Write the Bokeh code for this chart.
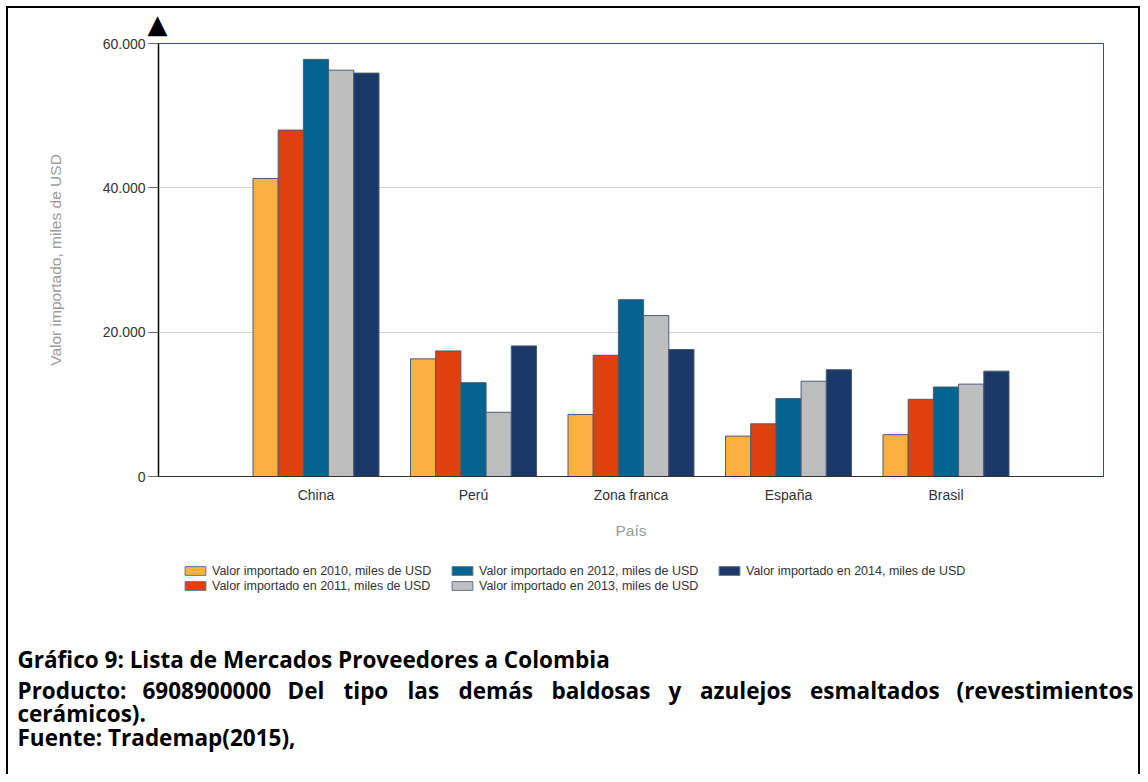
from bokeh.plotting import figure
from bokeh.models import Range1d, FixedTicker, Legend, LegendItem, Title
from bokeh.layouts import column
from bokeh.embed import file_html
from bokeh.resources import INLINE
from bokeh.core.properties import value

# ---- data ----
countries = ["China", "Perú", "Zona franca", "España", "Brasil"]
years = ["2010", "2011", "2012", "2013", "2014"]
v2010 = [41300, 16300, 8600, 5600, 5800]
v2011 = [48000, 17400, 16800, 7300, 10700]
v2012 = [57800, 13000, 24500, 10800, 12400]
v2013 = [56300, 8900, 22300, 13200, 12800]
v2014 = [55900, 18100, 17600, 14800, 14600]
series = [v2010, v2011, v2012, v2013, v2014]
series_labels = ["Valor importado en %s, miles de USD" % y for y in years]
colors = ["#FBB040", "#E0400B", "#05638F", "#BEBEBE", "#1B3968"]
y_ticks = [0, 20000, 40000, 60000]
y_tick_labels = ["0", "20.000", "40.000", "60.000"]

caption_1 = "Gráfico 9: Lista de Mercados Proveedores a Colombia"
caption_2_words = ["Producto:", "6908900000", "Del", "tipo", "las", "demás", "baldosas",
                   "y", "azulejos", "esmaltados", "(revestimientos"]
caption_3 = "cerámicos)."
caption_4 = "Fuente: Trademap(2015),"

W = 1140
H_TOP = 545
H_BOT = 774 - H_TOP

# ---- chart figure ----
p = figure(width=W, height=H_TOP, x_range=Range1d(0, 6), y_range=Range1d(0, 60000),
           output_backend="svg", toolbar_location=None,
           min_border_left=158, min_border_right=W - 1103, min_border_top=43,
           min_border_bottom=H_TOP - 476)
p.frame_align = False
p.background_fill_color = "white"
p.border_fill_alpha = 0
p.outline_line_color = "#34507A"
p.outline_line_width = 1

bar_w = 0.16
bar_x = []
for i, (vals, col) in enumerate(zip(series, colors)):
    xs = [k + 1 + (i - 2) * bar_w for k in range(len(countries))]
    bar_x.append(xs)
    p.vbar(x=xs, top=vals, width=bar_w, fill_color=col, line_color="#4B5B72", line_width=1)

# axes
p.xaxis.ticker = FixedTicker(ticks=[k + 1 for k in range(len(countries))])
p.xaxis.major_label_overrides = {k + 1: c for k, c in enumerate(countries)}
p.xaxis.major_tick_line_color = None
p.xaxis.minor_tick_line_color = None
p.xaxis.axis_line_color = "#333333"
p.xaxis.major_label_text_font = "Liberation Sans"
p.xaxis.major_label_text_font_size = "14px"
p.xaxis.major_label_text_color = "#333333"
p.xaxis.major_label_standoff = 4
p.xaxis.axis_label = "País"
p.xaxis.axis_label_text_font = "Liberation Sans"
p.xaxis.axis_label_text_font_style = "normal"
p.xaxis.axis_label_text_font_size = "15.5px"
p.xaxis.axis_label_text_color = "#9A9A9A"
p.xaxis.axis_label_standoff = 16

p.yaxis.ticker = FixedTicker(ticks=y_ticks)
p.yaxis.major_label_overrides = dict(zip(y_ticks, y_tick_labels))
p.yaxis.axis_line_color = "black"
p.yaxis.axis_line_width = 1.5
p.yaxis.major_tick_line_color = "#666666"
p.yaxis.major_tick_out = 10
p.yaxis.major_tick_in = 0
p.yaxis.minor_tick_line_color = None
p.yaxis.major_label_text_font = "Liberation Sans"
p.yaxis.major_label_text_font_size = "14px"
p.yaxis.major_label_text_color = "#333333"
p.yaxis.major_label_standoff = 3
p.yaxis.axis_label = "Valor importado, miles de USD"
p.yaxis.axis_label_text_font = "Liberation Sans"
p.yaxis.axis_label_text_font_style = "normal"
p.yaxis.axis_label_text_font_size = "15.5px"
p.yaxis.axis_label_text_color = "#9A9A9A"
p.yaxis.axis_label_standoff = 36

p.xgrid.visible = False
p.ygrid.ticker = FixedTicker(ticks=y_ticks[1:3])
p.ygrid.grid_line_color = "#D4D4D4"
p.ygrid.grid_line_width = 1

# y-axis arrow head
p.add_layout(Title(text="▲", align="left", offset=-11, standoff=9,
                   text_font="DejaVu Sans", text_font_size="26px",
                   text_font_style="normal", text_color="black"), "above")

# ---- lower figure: legend + caption (pixel-like coordinates, y downward) ----
c = figure(width=W, height=H_BOT, x_range=Range1d(0, W), y_range=Range1d(774, H_TOP),
           output_backend="svg", toolbar_location=None, x_axis_location=None,
           y_axis_location=None, min_border=0)
c.frame_align = False
c.grid.visible = False
c.outline_line_color = None
c.background_fill_alpha = 0
c.border_fill_alpha = 0

# hidden copies of the series serve as legend swatches
items = []
for xs, vals, lab, col in zip(bar_x, series, series_labels, colors):
    r = c.vbar(x=xs, top=vals, width=bar_w, fill_color=col, line_color="#66768A",
               line_width=1, visible=False)
    items.append(LegendItem(label=lab, renderers=[r]))

legend = Legend(items=items, orientation="vertical", nrows=2, location=(182, 181.5),
                margin=0, padding=0, spacing=1, label_standoff=4, label_width=236,
                glyph_width=26, glyph_height=11, label_height=11,
                label_text_font="Liberation Sans", label_text_font_size="12.5px",
                label_text_color="#333333", border_line_color=None,
                background_fill_alpha=0, inactive_fill_alpha=0)
c.add_layout(legend)

cap_font = dict(text_font=value("Open Sans"), text_font_style="bold", text_font_size="22.5px",
                text_color="black", text_baseline="alphabetic")
word_x = [17, 142, 287, 343, 407, 458, 551, 668, 699.5, 809.5]
cap_text = [caption_1] + caption_2_words[:-1] + [caption_3, caption_4]
cap_x = [17] + word_x + [17, 17]
cap_y = [659] + [690] * len(word_x) + [713, 737]
c.text(x=cap_x, y=cap_y, text=cap_text, text_align="left", **cap_font)
c.text(x=[1133], y=[690], text=caption_2_words[-1:], text_align="right", **cap_font)

layout = column(p, c, spacing=0,
                styles={"box-shadow": "inset 6px 6px 0 0 white, inset -2px 0 0 0 black, "
                                      "inset 8px 8px 0 0 black"})

open("out.html", "w").write(file_html(layout, INLINE))
